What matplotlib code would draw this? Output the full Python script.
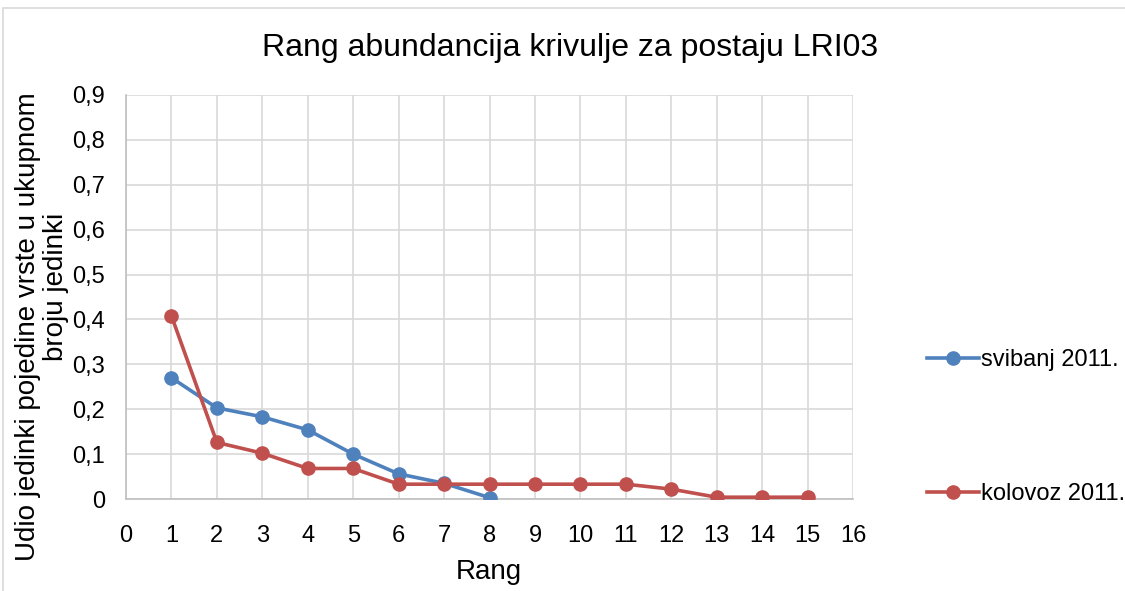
import numpy as np
import matplotlib.pyplot as plt
from matplotlib.patches import Rectangle

plt.rcParams['font.family'] = ['Liberation Sans', 'DejaVu Sans']

rang = [1, 2, 3, 4, 5, 6, 7, 8, 9, 10, 11, 12, 13, 14, 15]
svibanj = [0.27, 0.203, 0.183, 0.154, 0.1, 0.056, 0.035, 0.003]
kolovoz = [0.408, 0.126, 0.102, 0.068, 0.068, 0.033, 0.033, 0.033,
           0.033, 0.033, 0.033, 0.022, 0.004, 0.004, 0.004]
labels = ['svibanj 2011.', 'kolovoz 2011.']
blue = '#4F81BD'
red = '#C0504D'

W, H = 1125, 591
fig = plt.figure(figsize=(W/100, H/100), dpi=100)
fig.patches.append(Rectangle((0.003, -0.01), 1.0, 0.996, transform=fig.transFigure,
                             fill=False, edgecolor='#d9d9d9', linewidth=1.2))
ax = fig.add_axes([126/W, 1-499/H, (853-126)/W, (499-95)/H])

ax.plot(rang[:len(svibanj)], svibanj, color=blue, lw=2.6, marker='o', ms=9.5, label=labels[0], zorder=3)
ax.plot(rang, kolovoz, color=red, lw=2.6, marker='o', ms=9.5, label=labels[1], zorder=3)

ax.set_xlim(0, 16)
ax.set_ylim(0, 0.9)
ax.set_xticks(range(0, 17))
ax.set_yticks(np.arange(0, 0.91, 0.1))
ax.set_yticklabels(['0'] + [f'0,{i}' for i in range(1, 10)])
ax.grid(True, color='#d9d9d9', lw=1.2)
ax.set_axisbelow(True)
for s in ['top', 'right']:
    ax.spines[s].set_visible(False)
for s in ['left', 'bottom']:
    ax.spines[s].set_color('#bfbfbf')
    ax.spines[s].set_linewidth(1.2)
ax.tick_params(length=0, labelsize=17)
ax.tick_params(axis='y', pad=15)
ax.tick_params(axis='x', pad=19)

fig.text(570/W, 1-48/H, 'Rang abundancija krivulje za postaju LRI03', fontsize=23,
         ha='center', va='center')
fig.text(489/W, 1-572/H, 'Rang', fontsize=20, ha='center', va='center')
# y os naslov u dva reda
fig.text(28/W, 1-327/H, 'Udio jedinki pojedine vrste u ukupnom', fontsize=20,
         rotation=90, ha='center', va='center')
fig.text(56/W, 1-287/H, 'broju jedinki', fontsize=20,
         rotation=90, ha='center', va='center')

fig.legend(loc='upper left', bbox_to_anchor=(927/W, 1-349/H), frameon=False,
           fontsize=17, labelspacing=4.75, handlelength=2.2, handletextpad=0.1,
           borderpad=0, borderaxespad=0)

fig.savefig('out.png', dpi=100)
